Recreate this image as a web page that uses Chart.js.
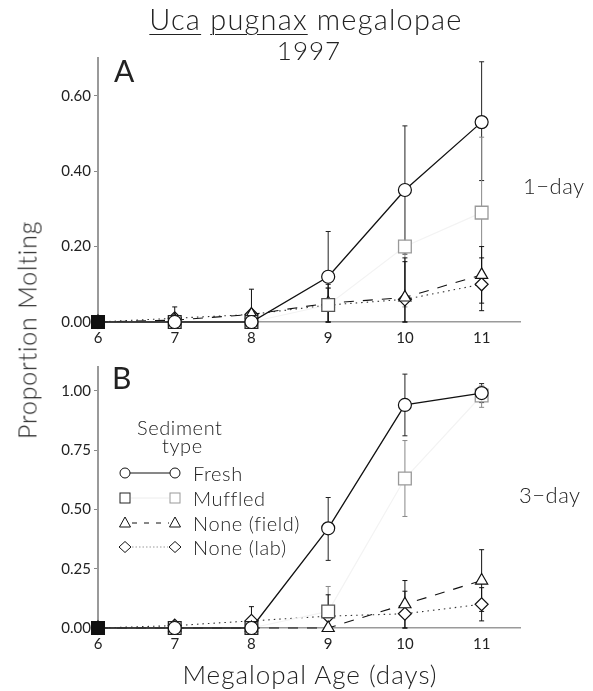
<!DOCTYPE html>
<html>
<head>
<meta charset="utf-8">
<script src="https://cdn.jsdelivr.net/npm/chart.js@4"></script>
<style>
  body { margin: 0; background: #fff; }
  #wrap { position: relative; width: 593px; height: 691px; font-family: Lato, "DejaVu Sans", sans-serif; color: #222; }
  .t { position: absolute; white-space: nowrap; line-height: 1; font-weight: 300; }
  canvas { position: absolute; left: 0; }
  .u { text-decoration: underline; text-decoration-thickness: 1px; text-underline-offset: 4px; }
  .lg { font-size: 20px; letter-spacing: 0.6px; }
</style>
</head>
<body>
<div id="wrap">
  <canvas id="chartA" width="593" height="350" style="top:0"></canvas>
  <canvas id="chartB" width="593" height="320" style="top:345px"></canvas>

  <div class="t" style="left:0;width:612px;text-align:center;top:4px;font-size:29px;letter-spacing:1.2px"><span class="u">Uca</span> <span class="u">pugnax</span> megalopae</div>
  <div class="t" style="left:0;width:618px;text-align:center;top:37px;font-size:26px;letter-spacing:1px">1997</div>
  <div class="t" style="left:114px;top:55px;font-size:30px;font-weight:400">A</div>
  <div class="t" style="left:112px;top:362px;font-size:30px;font-weight:400">B</div>
  <div class="t" style="left:523px;top:175px;font-size:22px;letter-spacing:0.5px">1−day</div>
  <div class="t" style="left:519px;top:484px;font-size:22px;letter-spacing:0.5px">3−day</div>
  <div class="t" style="left:0;width:620px;text-align:center;top:661px;font-size:26px;letter-spacing:1px">Megalopal Age (days)</div>
  <div class="t" style="left:27px;top:330px;font-size:25px;letter-spacing:0.8px;transform:translate(-50%,-50%) rotate(-90deg)">Proportion Molting</div>

  <div class="t lg" style="left:137px;top:417px">Sediment</div>
  <div class="t lg" style="left:162px;top:435px">type</div>
  <div class="t lg" style="left:193px;top:463px">Fresh</div>
  <div class="t lg" style="left:193px;top:488px">Muffled</div>
  <div class="t lg" style="left:193px;top:513px">None (field)</div>
  <div class="t lg" style="left:193px;top:537px">None (lab)</div>
</div>

<script>
// megalopal age (days)
const days = [6, 7, 8, 9, 10, 11];
const xTicks = [6, 7, 8, 9, 10, 11];
const yTicksA = [0, 0.2, 0.4, 0.6];
const yTicksB = [0, 0.25, 0.5, 0.75, 1.0];

// --- panel A : 1-day ---
const freshA   = [0, 0, 0, 0.12, 0.35, 0.53];
const freshAHi = [null, null, null, 0.24, 0.52, 0.69];
const freshALo = [null, null, null, 0.0, 0.18, 0.375];

const muffA   = [0, 0, 0, 0.045, 0.2, 0.29];
const muffAHi = [null, null, null, 0.09, 0.36, 0.49];
const muffALo = [null, null, null, 0.0, 0.04, 0.09];

const fieldA   = [0, 0.005, 0.02, 0.05, 0.065, 0.125];
const fieldAHi = [null, 0.04, 0.087, 0.1, 0.17, 0.2];
const fieldALo = [null, 0, 0, 0, 0, 0.05];

const labA   = [0, 0.01, 0.02, 0.045, 0.06, 0.1];
const labAHi = [null, null, null, 0.09, 0.16, 0.17];
const labALo = [null, null, null, 0, 0, 0.03];

// --- panel B : 3-day ---
const freshB   = [0, 0, 0, 0.42, 0.94, 0.99];
const freshBHi = [null, null, null, 0.55, 1.07, 1.03];
const freshBLo = [null, null, null, 0.285, 0.81, 0.95];

const muffB   = [0, 0, 0, 0.07, 0.63, 0.98];
const muffBHi = [null, null, null, 0.175, 0.79, 1.02];
const muffBLo = [null, null, null, 0, 0.47, 0.93];

const fieldB   = [0, 0, 0, 0, 0.1, 0.2];
const fieldBHi = [null, null, null, null, 0.2, 0.33];
const fieldBLo = [null, null, null, null, 0.0, 0.07];

const labB   = [0, 0.01, 0.03, 0.05, 0.06, 0.1];
const labBHi = [null, null, 0.09, 0.14, 0.155, 0.17];
const labBLo = [null, null, 0, 0, 0, 0.03];

const FONT = "Lato, 'DejaVu Sans', sans-serif";

// first point (day 6) is printed as a solid black block in the original
const FILL = ["#111", "#fff", "#fff", "#fff", "#fff", "#fff"];

// error bars, drawn under the markers
const errorBars = {
  id: "errorBars",
  beforeDatasetsDraw(chart) {
    const ctx = chart.ctx;
    const y = chart.scales.y;
    chart.data.datasets.forEach((ds, i) => {
      if (!ds.errHi) return;
      const meta = chart.getDatasetMeta(i);
      ctx.save();
      ctx.strokeStyle = ds.errColor;
      ctx.lineWidth = 1;
      meta.data.forEach((pt, j) => {
        const hi = ds.errHi[j], lo = ds.errLo[j];
        if (hi == null) return;
        const yh = y.getPixelForValue(hi);
        const yl = y.getPixelForValue(lo);
        ctx.beginPath();
        ctx.moveTo(pt.x, yh); ctx.lineTo(pt.x, yl);
        ctx.moveTo(pt.x - 2.5, yh); ctx.lineTo(pt.x + 2.5, yh);
        ctx.moveTo(pt.x - 2.5, yl); ctx.lineTo(pt.x + 2.5, yl);
        ctx.stroke();
      });
      ctx.restore();
    });
  }
};

// legend symbols (text is html)
const legendMarks = {
  id: "legendMarks",
  afterDraw(chart) {
    if (!chart.options.plugins.legendMarks.show) return;
    const ctx = chart.ctx;
    const rows = [128, 153, 178, 202];
    const x1 = 125, x2 = 175;
    ctx.save();
    ctx.lineWidth = 1;

    // fresh
    ctx.strokeStyle = "#111";
    ctx.beginPath(); ctx.moveTo(x1 + 5, rows[0]); ctx.lineTo(x2 - 5, rows[0]); ctx.stroke();
    [x1, x2].forEach(x => { ctx.beginPath(); ctx.arc(x, rows[0], 5, 0, Math.PI * 2); ctx.stroke(); });

    // muffled
    ctx.strokeStyle = "#ececec";
    ctx.beginPath(); ctx.moveTo(x1 + 6, rows[1]); ctx.lineTo(x2 - 6, rows[1]); ctx.stroke();
    ctx.strokeStyle = "#222"; ctx.strokeRect(x1 - 5, rows[1] - 5, 10, 10);
    ctx.strokeStyle = "#999"; ctx.strokeRect(x2 - 5, rows[1] - 5, 10, 10);

    // field
    ctx.strokeStyle = "#111";
    ctx.setLineDash([5, 7]);
    ctx.beginPath(); ctx.moveTo(x1 + 7, rows[2]); ctx.lineTo(x2 - 6, rows[2]); ctx.stroke();
    ctx.setLineDash([]);
    [x1, x2].forEach(x => {
      ctx.beginPath();
      ctx.moveTo(x, rows[2] - 6); ctx.lineTo(x + 5.5, rows[2] + 4); ctx.lineTo(x - 5.5, rows[2] + 4);
      ctx.closePath(); ctx.stroke();
    });

    // lab
    ctx.strokeStyle = "#999";
    ctx.setLineDash([1.5, 2]);
    ctx.beginPath(); ctx.moveTo(x1 + 7, rows[3]); ctx.lineTo(x2 - 7, rows[3]); ctx.stroke();
    ctx.setLineDash([]);
    ctx.strokeStyle = "#111";
    [x1, x2].forEach(x => {
      ctx.beginPath();
      ctx.moveTo(x, rows[3] - 5.5); ctx.lineTo(x + 6, rows[3]); ctx.lineTo(x, rows[3] + 5.5); ctx.lineTo(x - 6, rows[3]);
      ctx.closePath(); ctx.stroke();
    });
    ctx.restore();
  }
};

function series(fresh, fHi, fLo, muff, mHi, mLo, field, fdHi, fdLo, lab, lHi, lLo) {
  const pts = arr => days.map((d, i) => ({ x: d, y: arr[i] }));
  return [
    {
      label: "Fresh", data: pts(fresh), errHi: fHi, errLo: fLo, errColor: "#222", clip: false,
      borderColor: "#111", borderWidth: 1.3, pointStyle: "circle", pointRadius: 6.5,
      pointBorderColor: "#111", pointBackgroundColor: FILL, pointBorderWidth: 1.2
    },
    {
      label: "Muffled", data: pts(muff), errHi: mHi, errLo: mLo, errColor: "#888", clip: false,
      borderColor: "#f3f3f3", borderWidth: 1.2, pointStyle: "rect", pointRadius: 9,
      pointBorderColor: ["#111", "#222", "#222", "#555", "#999", "#999"],
      pointBackgroundColor: FILL, pointBorderWidth: 1.3
    },
    {
      label: "None (field)", data: pts(field), errHi: fdHi, errLo: fdLo, errColor: "#111", clip: false,
      borderColor: "#111", borderWidth: 1.1, borderDash: [10, 9], pointStyle: "triangle", pointRadius: 7,
      pointBorderColor: "#111", pointBackgroundColor: FILL, pointBorderWidth: 1.2
    },
    {
      label: "None (lab)", data: pts(lab), errHi: lHi, errLo: lLo, errColor: "#111", clip: false,
      borderColor: "#333", borderWidth: 1.1, borderDash: [1.5, 4], pointStyle: "rectRot", pointRadius: 6.5,
      pointBorderColor: "#111", pointBackgroundColor: FILL, pointBorderWidth: 1.2
    }
  ];
}

function makeChart(id, datasets, yMax, yTicks, yFmt, padTop, xHeight, showLegend) {
  new Chart(document.getElementById(id), {
    type: "line",
    data: { datasets },
    options: {
      responsive: false,
      animation: false,
      layout: { padding: { top: padTop, right: 73, left: 0, bottom: 0 } },
      plugins: { legend: { display: false }, tooltip: { enabled: false }, legendMarks: { show: showLegend } },
      scales: {
        x: {
          type: "linear", min: 6, max: 11.5,
          afterBuildTicks: s => { s.ticks = xTicks.map(v => ({ value: v })); },
          afterFit: s => { s.height = xHeight; },
          grid: { drawOnChartArea: false, drawTicks: false },
          border: { color: "#9a9a9a", width: 1.5 },
          ticks: { padding: 7, color: "#222", font: { family: FONT, size: 15 }, callback: v => v }
        },
        y: {
          min: 0, max: yMax,
          afterBuildTicks: s => { s.ticks = yTicks.map(v => ({ value: v })); },
          afterFit: s => { s.width = 98; },
          grid: { drawOnChartArea: false, tickLength: 4, color: "#888" },
          border: { color: "#9a9a9a", width: 2 },
          ticks: { padding: 3, color: "#222", font: { family: FONT, size: 15 }, callback: yFmt }
        }
      }
    },
    plugins: [errorBars, legendMarks]
  });
}

makeChart("chartA",
  series(freshA, freshAHi, freshALo, muffA, muffAHi, muffALo, fieldA, fieldAHi, fieldALo, labA, labAHi, labALo),
  0.7, yTicksA, v => v.toFixed(2), 58, 28, false);

makeChart("chartB",
  series(freshB, freshBHi, freshBLo, muffB, muffBHi, muffBLo, fieldB, fieldBHi, fieldBLo, labB, labBHi, labBLo),
  1.1, yTicksB, v => v.toFixed(2), 22, 37, true);
</script>
</body>
</html>
